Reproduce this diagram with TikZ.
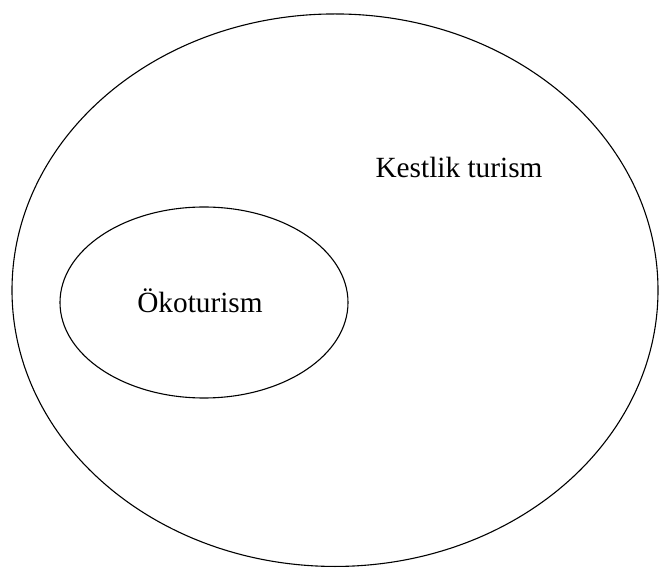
\documentclass[tikz,border=0pt]{standalone}
\usepackage{fontspec}
\setmainfont{Liberation Serif}
\usetikzlibrary{shapes.geometric}

\begin{document}
\begin{tikzpicture}[
        x=1pt, y=-1pt,
        set/.style={draw, ellipse, line width=1.1pt, inner sep=0pt},
        setlabel/.style={anchor=base, inner sep=0pt, font=\fontsize{29.3}{35}\selectfont}
    ]
        \useasboundingbox (0,0) rectangle (659,569);

        \node[set, minimum width=646pt, minimum height=552.5pt] (kestlik) at (335,290.2) {};
        \node[set, minimum width=288pt, minimum height=191pt] (oko) at (204,302.5) {};

        \node[setlabel] (kestlikText) at (459,178) {Kestlik turism};
        \node[setlabel] (okoText) at (200,313) {Ökoturism};
    \end{tikzpicture}
\end{document}
